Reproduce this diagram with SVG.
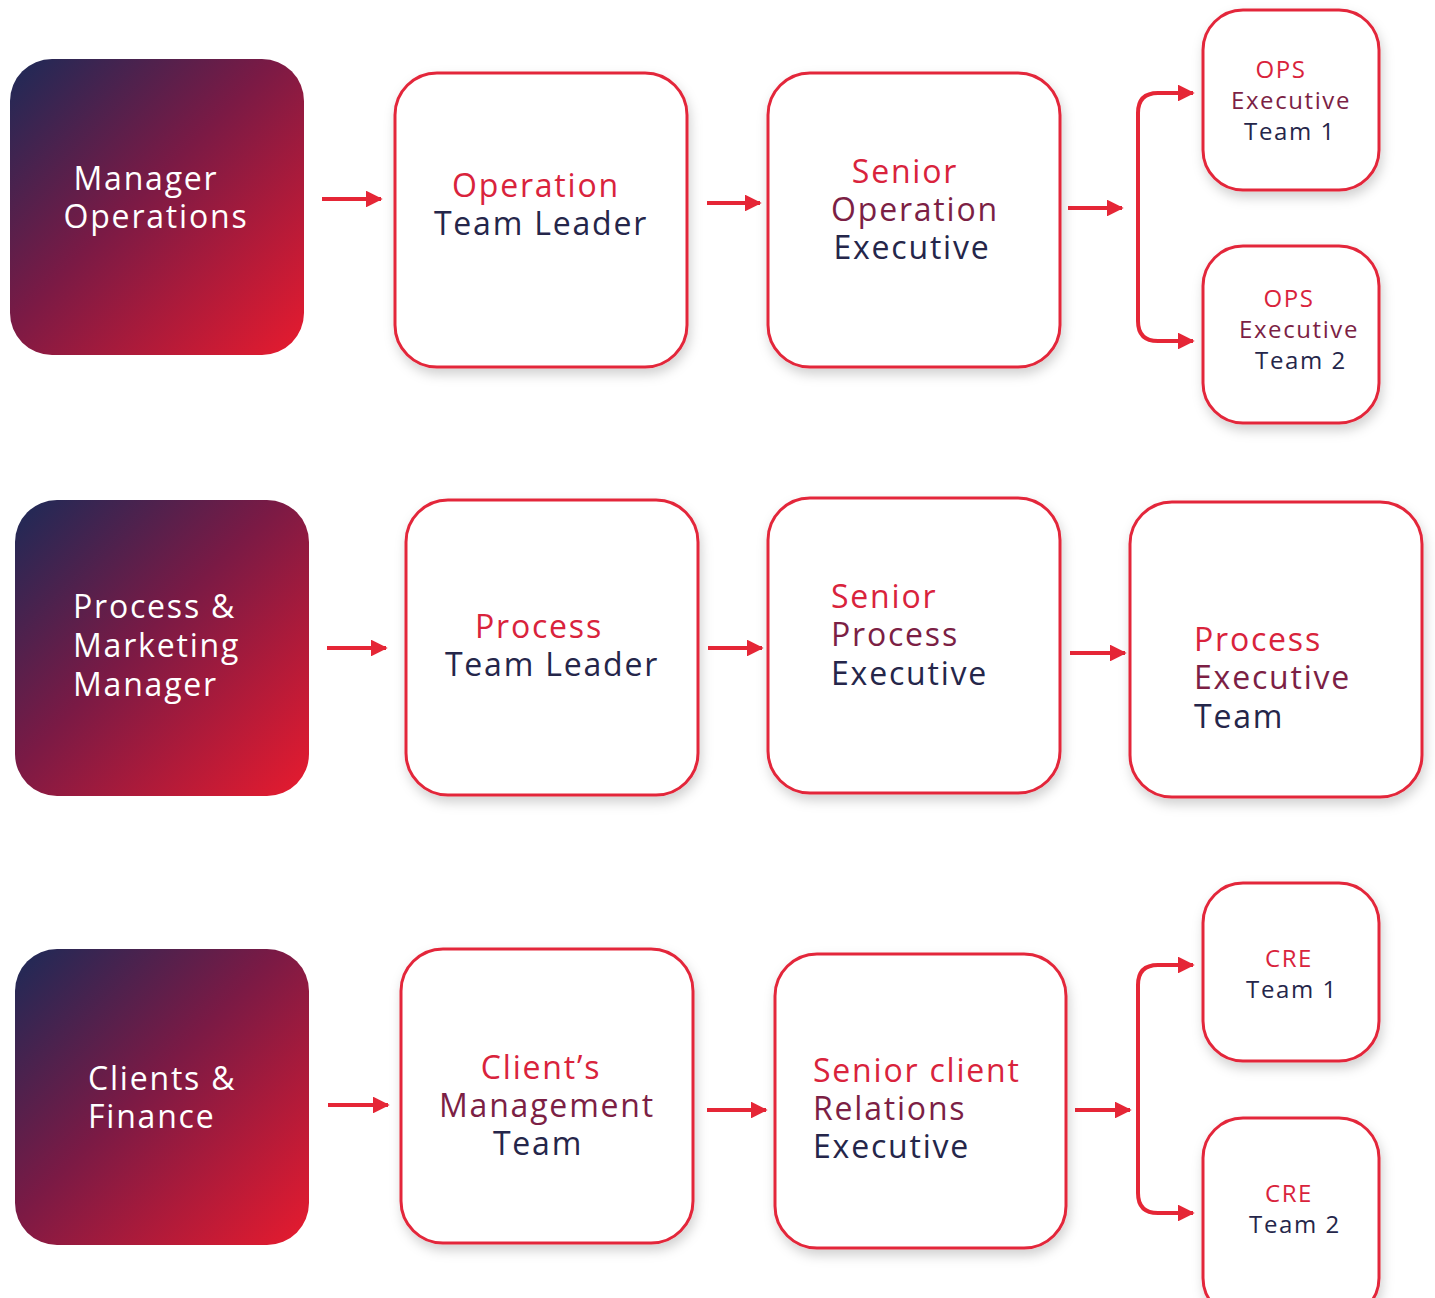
<svg xmlns="http://www.w3.org/2000/svg" width="1435" height="1298" viewBox="0 0 1435 1298">
<defs>
<linearGradient id="grad" x1="0" y1="0" x2="1" y2="1">
<stop offset="0" stop-color="#1c2a57"/>
<stop offset="0.45" stop-color="#7a1a45"/>
<stop offset="1" stop-color="#e81b2e"/>
</linearGradient>
<filter id="shadow" x="-10%" y="-10%" width="125%" height="125%">
<feDropShadow dx="2" dy="6" stdDeviation="6" flood-color="#000" flood-opacity="0.18"/>
</filter>
<marker id="ah" viewBox="0 0 10 10" refX="9" refY="5" markerWidth="4.2" markerHeight="4.2" orient="auto" markerUnits="strokeWidth">
<path d="M0,0 L10,5 L0,10 z" fill="#e52636"/>
</marker>
</defs>
<style>
.g{fill:url(#grad);}
.b{fill:#fff;stroke:#e3283a;stroke-width:3;filter:url(#shadow);}
.c{fill:none;stroke:#e52636;stroke-width:4;marker-end:url(#ah);}
text{font-family:"Open Sans","Liberation Sans",sans-serif;font-size:32px;letter-spacing:1.8px;}
.w{fill:#ffffff;}
.r{fill:#d9233c;}
.m{fill:#7c1f45;}
.n{fill:#25264a;}
.s{font-size:24px;letter-spacing:1.6px;}
.mid{text-anchor:middle;}
</style>
<rect width="1435" height="1298" fill="#ffffff"/>

<g id="connectors">
<line class="c" x1="322" y1="199" x2="381" y2="199"/>
<line class="c" x1="707" y1="203" x2="760" y2="203"/>
<line class="c" x1="1068" y1="208" x2="1122" y2="208"/>
<path class="c" d="M1138,217 L1138,113 Q1138,93 1158,93 L1193,93"/>
<path class="c" d="M1138,217 L1138,321 Q1138,341 1158,341 L1193,341"/>
<line class="c" x1="327" y1="648" x2="386" y2="648"/>
<line class="c" x1="708" y1="648" x2="762" y2="648"/>
<line class="c" x1="1070" y1="653" x2="1125" y2="653"/>
<line class="c" x1="328" y1="1105" x2="388" y2="1105"/>
<line class="c" x1="707" y1="1110" x2="766" y2="1110"/>
<line class="c" x1="1075" y1="1110" x2="1130" y2="1110"/>
<path class="c" d="M1138,1089 L1138,985 Q1138,965 1158,965 L1193,965"/>
<path class="c" d="M1138,1089 L1138,1193 Q1138,1213 1158,1213 L1193,1213"/>
</g>

<g id="manager-operations">
<rect class="g" x="10" y="59" width="294" height="296" rx="42"/>
<text class="w mid" x="146" y="190">Manager</text>
<text class="w mid" x="156" y="228">Operations</text>
</g>
<g id="operation-team-leader">
<rect class="b" x="395" y="73" width="292" height="294" rx="42"/>
<text class="r mid" x="536" y="197">Operation</text>
<text class="n mid" x="541" y="235">Team Leader</text>
</g>
<g id="senior-operation-executive">
<rect class="b" x="768" y="73" width="292" height="294" rx="42"/>
<text class="r mid" x="905" y="183">Senior</text>
<text class="m mid" x="915" y="221">Operation</text>
<text class="n mid" x="912" y="259">Executive</text>
</g>
<g id="ops-executive-team-1">
<rect class="b" x="1203" y="10" width="176" height="180" rx="40"/>
<text class="r s mid" x="1281" y="78">OPS</text>
<text class="m s mid" x="1291" y="109">Executive</text>
<text class="n s mid" x="1290" y="140">Team 1</text>
</g>
<g id="ops-executive-team-2">
<rect class="b" x="1203" y="246" width="176" height="177" rx="40"/>
<text class="r s mid" x="1289" y="307">OPS</text>
<text class="m s mid" x="1299" y="338">Executive</text>
<text class="n s mid" x="1301" y="369">Team 2</text>
</g>

<g id="process-marketing-manager">
<rect class="g" x="15" y="500" width="294" height="296" rx="42"/>
<text class="w" x="73" y="618">Process &amp;</text>
<text class="w" x="73" y="657">Marketing</text>
<text class="w" x="73" y="696">Manager</text>
</g>
<g id="process-team-leader">
<rect class="b" x="406" y="500" width="292" height="295" rx="42"/>
<text class="r mid" x="539" y="638">Process</text>
<text class="n mid" x="552" y="676">Team Leader</text>
</g>
<g id="senior-process-executive">
<rect class="b" x="768" y="498" width="292" height="295" rx="42"/>
<text class="r" x="831" y="608">Senior</text>
<text class="m" x="831" y="646">Process</text>
<text class="n" x="831" y="685">Executive</text>
</g>
<g id="process-executive-team">
<rect class="b" x="1130" y="502" width="292" height="295" rx="42"/>
<text class="r" x="1194" y="651">Process</text>
<text class="m" x="1194" y="689">Executive</text>
<text class="n" x="1194" y="728">Team</text>
</g>

<g id="clients-finance">
<rect class="g" x="15" y="949" width="294" height="296" rx="42"/>
<text class="w" x="88" y="1090">Clients &amp;</text>
<text class="w" x="88" y="1128">Finance</text>
</g>
<g id="clients-management-team">
<rect class="b" x="401" y="949" width="292" height="294" rx="42"/>
<text class="r mid" x="541" y="1079">Client’s</text>
<text class="m mid" x="547" y="1117">Management</text>
<text class="n mid" x="538" y="1155">Team</text>
</g>
<g id="senior-client-relations-executive">
<rect class="b" x="775" y="954" width="291" height="294" rx="42"/>
<text class="r" x="813" y="1082">Senior client</text>
<text class="m" x="813" y="1120">Relations</text>
<text class="n" x="813" y="1158">Executive</text>
</g>
<g id="cre-team-1">
<rect class="b" x="1203" y="883" width="176" height="178" rx="40"/>
<text class="r s mid" x="1289" y="967">CRE</text>
<text class="n s mid" x="1292" y="998">Team 1</text>
</g>
<g id="cre-team-2">
<rect class="b" x="1203" y="1118" width="176" height="200" rx="40"/>
<text class="r s mid" x="1289" y="1202">CRE</text>
<text class="n s mid" x="1295" y="1233">Team 2</text>
</g>
</svg>
